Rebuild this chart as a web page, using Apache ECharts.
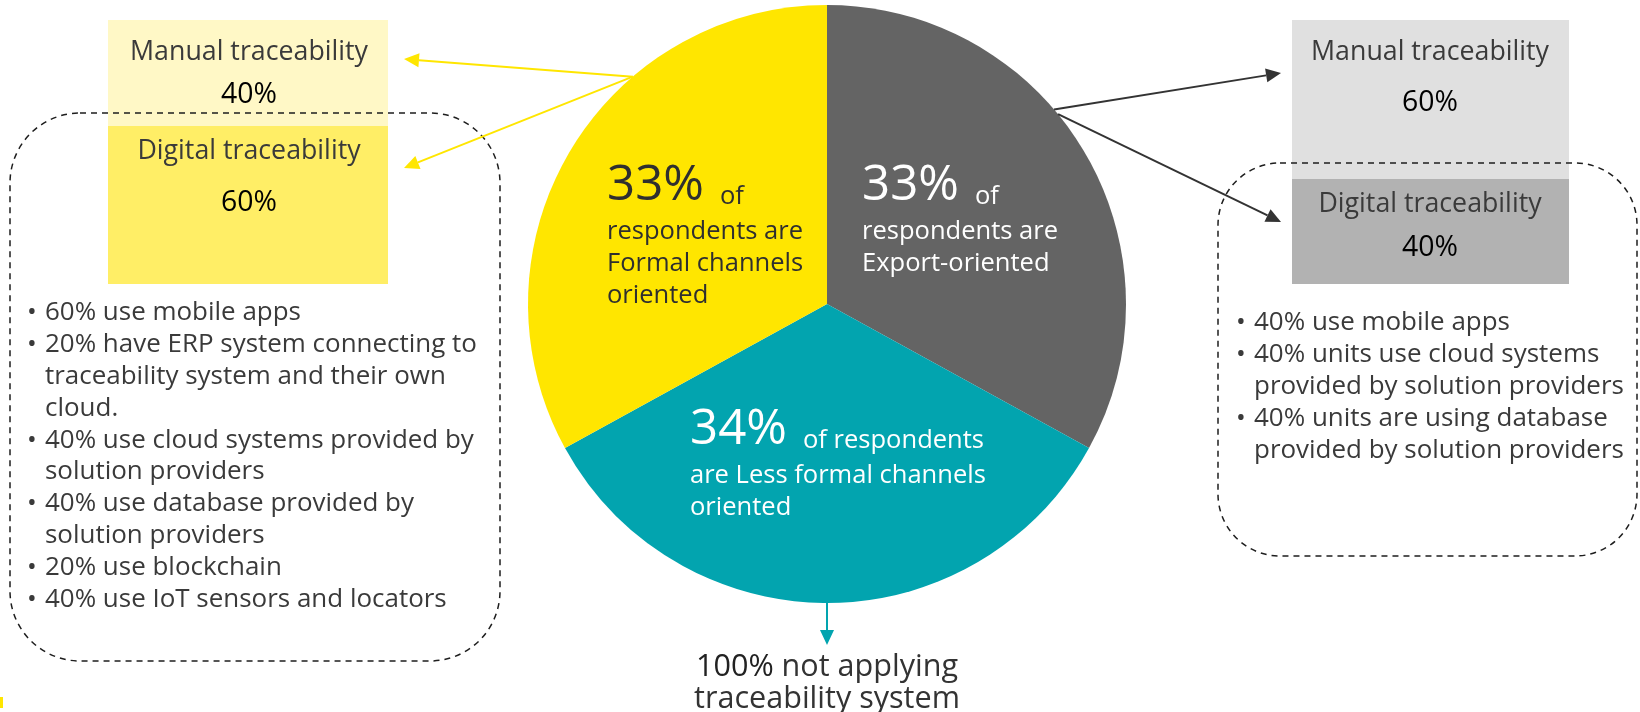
<!DOCTYPE html>
<html><head><meta charset="utf-8">
<script src="https://cdn.jsdelivr.net/npm/echarts@6/dist/echarts.min.js"></script>
<style>html,body{margin:0;padding:0;background:#fff;overflow:hidden}#c{width:1640px;height:712px}</style>
</head><body><div id="c"></div>
<script>
// ---------- DATA ----------
const segmentNames = ['Export-oriented', 'Less formal channels oriented', 'Formal channels oriented'];
const segmentValues = [33, 34, 33];
const segmentSuffix = ['of', 'of respondents', 'of'];
const segmentLines = [
  ['respondents are', 'Export-oriented'],
  ['are Less formal channels', 'oriented'],
  ['respondents are', 'Formal channels', 'oriented']
];
const traceTypes = ['Manual traceability', 'Digital traceability'];
const formalShares = [40, 60];   // formal channels: manual, digital
const exportShares = [60, 40];   // export-oriented: manual, digital
const formalBullets = [
  ['60% use mobile apps'],
  ['20% have ERP system connecting to', 'traceability system and their own', 'cloud.'],
  ['40% use cloud systems provided by', 'solution providers'],
  ['40% use database provided by', 'solution providers'],
  ['20% use blockchain'],
  ['40% use IoT sensors and locators']
];
const exportBullets = [
  ['40% use mobile apps'],
  ['40% units use cloud systems', 'provided by solution providers'],
  ['40% units are using database', 'provided by solution providers']
];
const lessFormalNotApplying = 100;
const bottomText = ['not applying', 'traceability system'];

// ---------- STYLE / LAYOUT ----------
const FF = "'Open Sans', sans-serif";
const CX = 827, CY = 304, R = 299;
const sliceColors = ['#646464', '#02A4AF', '#FFE600'];
const sliceTextColors = ['#ffffff', '#ffffff', '#2f2f2f'];
const labelPos = [[862, 186], [690, 430], [607, 186]];
const LINE = 31.8;

const mctx = document.createElement('canvas').getContext('2d');
function tw(t, font) { mctx.font = font; return mctx.measureText(t).width; }
function fit(sample, target, weight) { return +(20 * target / tw(sample, (weight || 400) + ' 20px ' + FF)).toFixed(2); }

const S_BUL = fit('20% have ERP system connecting to', 432);
const S_TITLE = fit('Manual traceability', 238);
const S_PCT = fit('40%', 56, 500);
const S_LBL = fit('are Less formal channels', 296);
const S_BIG = fit('33%', 97);
const S_BOT = fit('traceability system', 266);

const g = [];
function txt(t, x, y, size, color, align, weight) {
  const font = (weight || 400) + ' ' + size + 'px ' + FF;
  g.push({type: 'text', z: 100, silent: true, style: {text: t, x: x, y: y, font: font, fill: color,
    textAlign: align || 'left', align: align || 'left', textVerticalAlign: 'middle', verticalAlign: 'middle'}});
}
function rect(x, y, w, h, fill) {
  g.push({type: 'rect', z: 50, silent: true, shape: {x: x, y: y, width: w, height: h}, style: {fill: fill}});
}
function dashed(x, y, w, h, r) {
  g.push({type: 'rect', z: 60, silent: true, shape: {x: x, y: y, width: w, height: h, r: r},
    style: {fill: null, stroke: '#1e1e1e', lineWidth: 1.5, lineDash: [6, 5]}});
}
function arrow(x1, y1, x2, y2, color) {
  const L = 15, W = 7;
  const dx = x2 - x1, dy = y2 - y1, d = Math.hypot(dx, dy);
  const ux = dx / d, uy = dy / d, nx = -uy, ny = ux;
  const bx = x2 - ux * L, by = y2 - uy * L;
  g.push({type: 'line', z: 70, silent: true, shape: {x1: x1, y1: y1, x2: bx, y2: by}, style: {stroke: color, lineWidth: 2}});
  g.push({type: 'polygon', z: 70, silent: true, shape: {points: [[x2, y2], [bx + nx * W, by + ny * W], [bx - nx * W, by - ny * W]]}, style: {fill: color}});
}
function edge(deg) { const a = deg * Math.PI / 180; return [CX + R * Math.cos(a), CY - R * Math.sin(a)]; }

// boxes
rect(108, 20, 280, 106, '#FFF8C6');
rect(108, 126, 280, 158, '#FFEE66');
rect(1292, 20, 277, 159, '#E0E0E0');
rect(1292, 179, 277, 105, '#B2B2B2');
txt(traceTypes[0], 249, 52, S_TITLE, '#3a3a3a', 'center');
txt(formalShares[0] + '%', 249, 95, S_PCT, '#000', 'center', 500);
txt(traceTypes[1], 249, 151, S_TITLE, '#3a3a3a', 'center');
txt(formalShares[1] + '%', 249, 203, S_PCT, '#000', 'center', 500);
txt(traceTypes[0], 1430, 52, S_TITLE, '#3a3a3a', 'center');
txt(exportShares[0] + '%', 1430, 103, S_PCT, '#000', 'center', 500);
txt(traceTypes[1], 1430, 204, S_TITLE, '#3a3a3a', 'center');
txt(exportShares[1] + '%', 1430, 248, S_PCT, '#000', 'center', 500);

// dashed frames
dashed(10, 113, 490, 548, 70);
dashed(1218, 163, 419, 393, 62);

// bullets
function bullets(list, bx, tx, y0) {
  let y = y0;
  list.forEach(item => {
    txt('\u2022', bx, y, S_BUL, '#3a3a3a', 'left');
    item.forEach(line => { txt(line, tx, y, S_BUL, '#3a3a3a', 'left'); y += LINE; });
  });
}
bullets(formalBullets, 27, 45, 313);
bullets(exportBullets, 1236, 1254, 323);

// arrows
const ys = edge(130.5);
arrow(ys[0], ys[1], 404, 59, '#FFE600');
arrow(ys[0], ys[1], 404, 168, '#FFE600');
const gs1 = edge(40.6), gs2 = edge(39.4);
arrow(gs1[0], gs1[1], 1281, 73, '#333333');
arrow(gs2[0], gs2[1], 1281, 222, '#333333');
arrow(CX, CY + R, CX, 645, '#02A4AF');

// slice labels
segmentValues.forEach((v, i) => {
  const [x, y] = labelPos[i];
  const big = v + '%';
  const bigFont = '400 ' + S_BIG + 'px ' + FF;
  txt(big, x, y, S_BIG, sliceTextColors[i], 'left');
  const w = tw(big, bigFont);
  txt(segmentSuffix[i], x + w + 16, y + 11, S_LBL, sliceTextColors[i], 'left');
  segmentLines[i].forEach((l, k) => txt(l, x, y + 46 + k * LINE, S_LBL, sliceTextColors[i], 'left'));
});

// bottom text
const b1 = lessFormalNotApplying + '%';
const f1 = '500 ' + S_BOT + 'px ' + FF, f2 = '400 ' + S_BOT + 'px ' + FF;
const w1 = tw(b1 + ' ', f1), w2 = tw(bottomText[0], f2);
const bxs = CX - (w1 + w2) / 2;
txt(b1, bxs, 667, S_BOT, '#222', 'left', 500);
txt(bottomText[0], bxs + w1, 667, S_BOT, '#333', 'left', 400);
txt(bottomText[1], CX, 699, S_BOT, '#333', 'center', 400);

// small edge mark
rect(0, 697, 3, 11, '#FFE600');

const chart = echarts.init(document.getElementById('c'), null, {renderer: 'canvas', width: 1640, height: 712});
chart.setOption({
  animation: false,
  backgroundColor: '#ffffff',
  series: [{
    type: 'pie',
    silent: true,
    center: [CX, CY],
    radius: R,
    startAngle: 90,
    clockwise: true,
    label: {show: false},
    labelLine: {show: false},
    data: segmentNames.map((n, i) => ({name: n, value: segmentValues[i], itemStyle: {color: sliceColors[i]}}))
  }],
  graphic: {elements: g}
});
</script>
</body></html>
